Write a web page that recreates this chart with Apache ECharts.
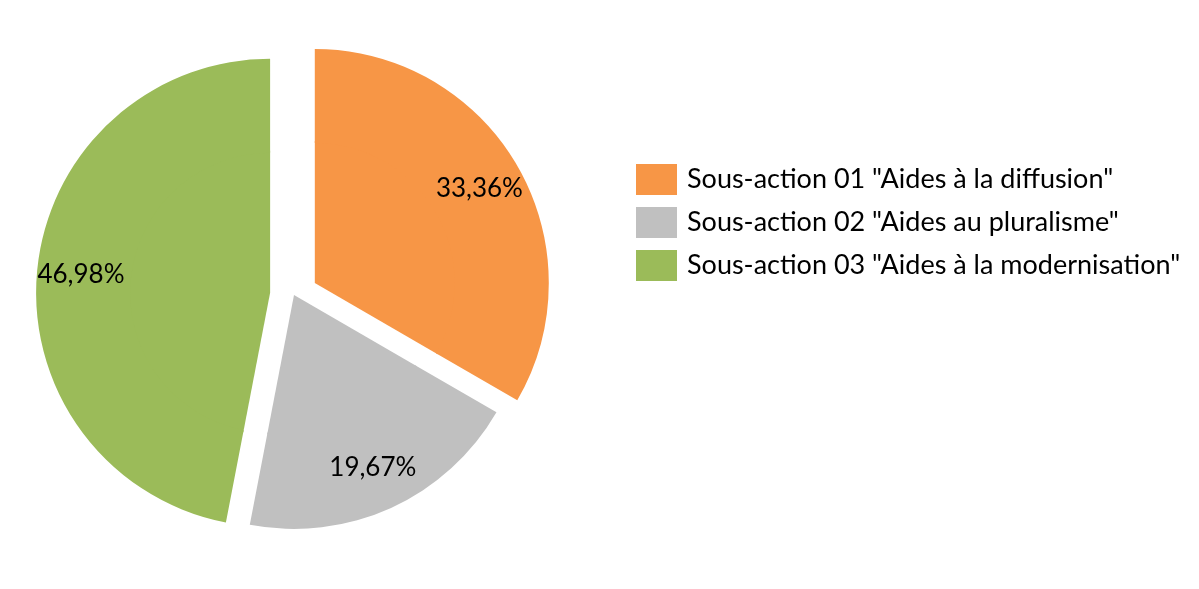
<!DOCTYPE html>
<html>
<head>
<meta charset="utf-8">
<script src="https://cdn.jsdelivr.net/npm/echarts@6/dist/echarts.min.js"></script>
<style>html,body{margin:0;padding:0;background:#fff}#c{width:1199px;height:589px}</style>
</head>
<body>
<div id="c"></div>
<script>
const categories = ['Sous-action 01 "Aides à la diffusion"', 'Sous-action 02 "Aides au pluralisme"', 'Sous-action 03 "Aides à la modernisation"'];
const values = [33.36, 19.67, 46.98];
const exploded = [true, false, true];
const colors = ['#F79646', '#C0C0C0', '#9BBB59'];

const chart = echarts.init(document.getElementById('c'), null, {renderer: 'canvas'});
const makeData = () => categories.map((n, i) => ({name: n, value: values[i], selected: exploded[i], itemStyle: {color: colors[i]}}));
const fmt = p => p.value.toFixed(2).replace('.', ',') + '%';
const common = {
  type: 'pie', center: [294, 295], startAngle: 90, clockwise: true,
  selectedMode: 'multiple', selectedOffset: 24, avoidLabelOverlap: false,
  emphasis: {disabled: true}, select: {itemStyle: {borderWidth: 0}},
  itemStyle: {borderWidth: 0}, labelLine: {show: false}
};
chart.setOption({
  animation: false,
  backgroundColor: '#fff',
  legend: {
    orient: 'vertical', left: 636, top: 164, padding: 0, itemWidth: 41, itemHeight: 31, itemGap: 12,
    icon: 'rect', selectedMode: false, data: categories,
    textStyle: {fontFamily: 'Lato', fontSize: 27, lineHeight: 30, color: '#000', padding: [0, 0, 0, 5]}
  },
  series: [
    Object.assign({}, common, {radius: [0, 142], silent: true, label: {show: false}, data: makeData()}),
    Object.assign({}, common, {radius: [140, 234], label: {show: true, position: 'inside', formatter: fmt, fontFamily: 'Lato', fontSize: 26, color: '#000'}, data: makeData()})
  ]
});
</script>
</body>
</html>
